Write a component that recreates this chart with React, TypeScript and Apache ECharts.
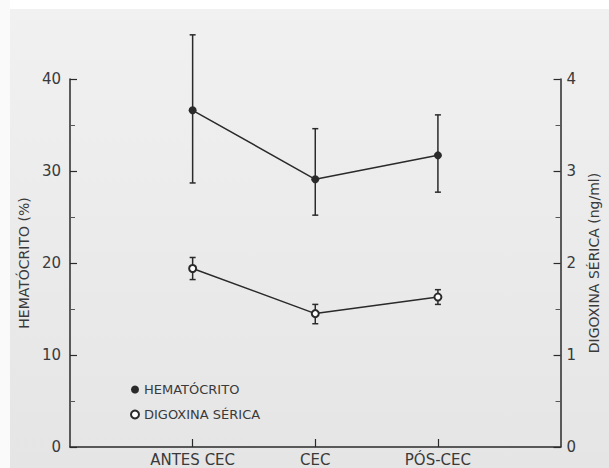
import React, { useEffect, useRef } from "react";
import * as echarts from "echarts";

const categories = ["", "ANTES CEC", "CEC", "PÓS-CEC", ""];
const hematocritoMean = [null, 36.6, 29.1, 31.7, null];
const hematocritoLow = [null, 28.7, 25.2, 27.7, null];
const hematocritoHigh = [null, 44.8, 34.6, 36.1, null];
const digoxinaMean = [null, 1.94, 1.45, 1.63, null];
const digoxinaLow = [null, 1.82, 1.34, 1.55, null];
const digoxinaHigh = [null, 2.06, 1.55, 1.71, null];
const leftTicks = [0, 10, 20, 30, 40];
const rightTicks = [0, 1, 2, 3, 4];

const ink = "#2a2a2a";
const textInk = "#3a3a3a";
const font = "DejaVu Sans";

function errorData(low: (number | null)[], high: (number | null)[]) {
  const out: any[] = [];
  low.forEach((l, i) => {
    if (l != null && high[i] != null) out.push([i, l, high[i]]);
  });
  return out;
}

function makeRender(cap: number) {
  return (params: any, api: any) => {
    const x = api.value(0);
    const lo = api.coord([x, api.value(1)]);
    const hi = api.coord([x, api.value(2)]);
    const style = { stroke: ink, lineWidth: 1.5 };
    return {
      type: "group",
      children: [
        { type: "line", shape: { x1: lo[0], y1: lo[1], x2: hi[0], y2: hi[1] }, style },
        { type: "line", shape: { x1: lo[0] - cap, y1: lo[1], x2: lo[0] + cap, y2: lo[1] }, style },
        { type: "line", shape: { x1: hi[0] - cap, y1: hi[1], x2: hi[0] + cap, y2: hi[1] }, style },
      ],
    };
  };
}

export default function App() {
  const ref = useRef<HTMLDivElement>(null);
  useEffect(() => {
    if (!ref.current) return;
    const chart = echarts.init(ref.current, undefined, { renderer: "svg" });
    const axisCommon = {
      axisLine: { show: true, lineStyle: { color: ink, width: 1.5 } },
      axisTick: { show: true, inside: true, length: 7, lineStyle: { color: ink, width: 1.2 } },
      minorTick: { show: true, splitNumber: 2, length: 5, lineStyle: { color: "#555", width: 1 } },
      splitLine: { show: false },
      axisLabel: { color: textInk, fontSize: 15, fontFamily: font, margin: 9 },
      nameLocation: "middle" as const,
      nameRotate: 90,
      nameTextStyle: { color: textInk, fontSize: 14, fontFamily: font },
    };
    chart.setOption({
      animation: false,
      backgroundColor: new echarts.graphic.LinearGradient(0, 0, 0, 1, [
        { offset: 0, color: "#f1f1f1" },
        { offset: 1, color: "#e5e5e5" },
      ]),
      graphic: [
        { type: "rect", left: 0, top: 0, shape: { width: 609, height: 9 }, style: { fill: "#ffffff" }, silent: true },
        { type: "rect", left: 0, top: 0, shape: { width: 10, height: 468 }, style: { fill: "#fafafa" }, silent: true },
      ],
      grid: { left: 70, right: 38, top: 79, bottom: 21 },
      legend: {
        orient: "vertical",
        left: 125,
        top: 378,
        itemGap: 12,
        itemWidth: 8,
        itemHeight: 8,
        textStyle: { color: textInk, fontSize: 13, fontFamily: font },
        data: [
          { name: "HEMATÓCRITO", icon: "circle" },
          { name: "DIGOXINA SÉRICA", icon: "emptyCircle" },
        ],
      },
      xAxis: {
        type: "category",
        data: categories,
        boundaryGap: false,
        axisLine: { show: true, lineStyle: { color: ink, width: 1.5 } },
        axisTick: {
          show: true,
          inside: true,
          length: 8,
          interval: (i: number, v: string) => v !== "",
          lineStyle: { color: ink, width: 1.2 },
        },
        axisLabel: { color: textInk, fontSize: 15, fontFamily: font, margin: 5, interval: 0 },
        splitLine: { show: false },
      },
      yAxis: [
        {
          type: "value",
          min: leftTicks[0],
          max: leftTicks[leftTicks.length - 1],
          interval: 10,
          position: "left",
          name: "HEMATÓCRITO (%)",
          nameGap: 37,
          ...axisCommon,
        },
        {
          type: "value",
          min: rightTicks[0],
          max: rightTicks[rightTicks.length - 1],
          interval: 1,
          position: "right",
          name: "DIGOXINA SÉRICA (ng/ml)",
          nameGap: 25,
          ...axisCommon,
          axisLabel: { ...axisCommon.axisLabel, margin: 6 },
        },
      ],
      series: [
        {
          name: "HEMATÓCRITO",
          type: "line",
          yAxisIndex: 0,
          data: hematocritoMean,
          symbol: "circle",
          symbolSize: 8,
          itemStyle: { color: ink },
          lineStyle: { color: ink, width: 1.5 },
          z: 3,
        },
        {
          name: "DIGOXINA SÉRICA",
          type: "line",
          yAxisIndex: 1,
          data: digoxinaMean,
          symbol: "emptyCircle",
          symbolSize: 7,
          itemStyle: { color: ink, borderColor: ink, borderWidth: 1.3 },
          lineStyle: { color: ink, width: 1.5 },
          z: 3,
        },
        {
          type: "custom",
          yAxisIndex: 0,
          data: errorData(hematocritoLow, hematocritoHigh),
          renderItem: makeRender(3),
          z: 2,
        },
        {
          type: "custom",
          yAxisIndex: 1,
          data: errorData(digoxinaLow, digoxinaHigh),
          renderItem: makeRender(3),
          z: 2,
        },
      ],
    });
    return () => chart.dispose();
  }, []);
  return <div ref={ref} style={{ position: "fixed", left: 0, top: 0, width: 609, height: 468 }} />;
}
